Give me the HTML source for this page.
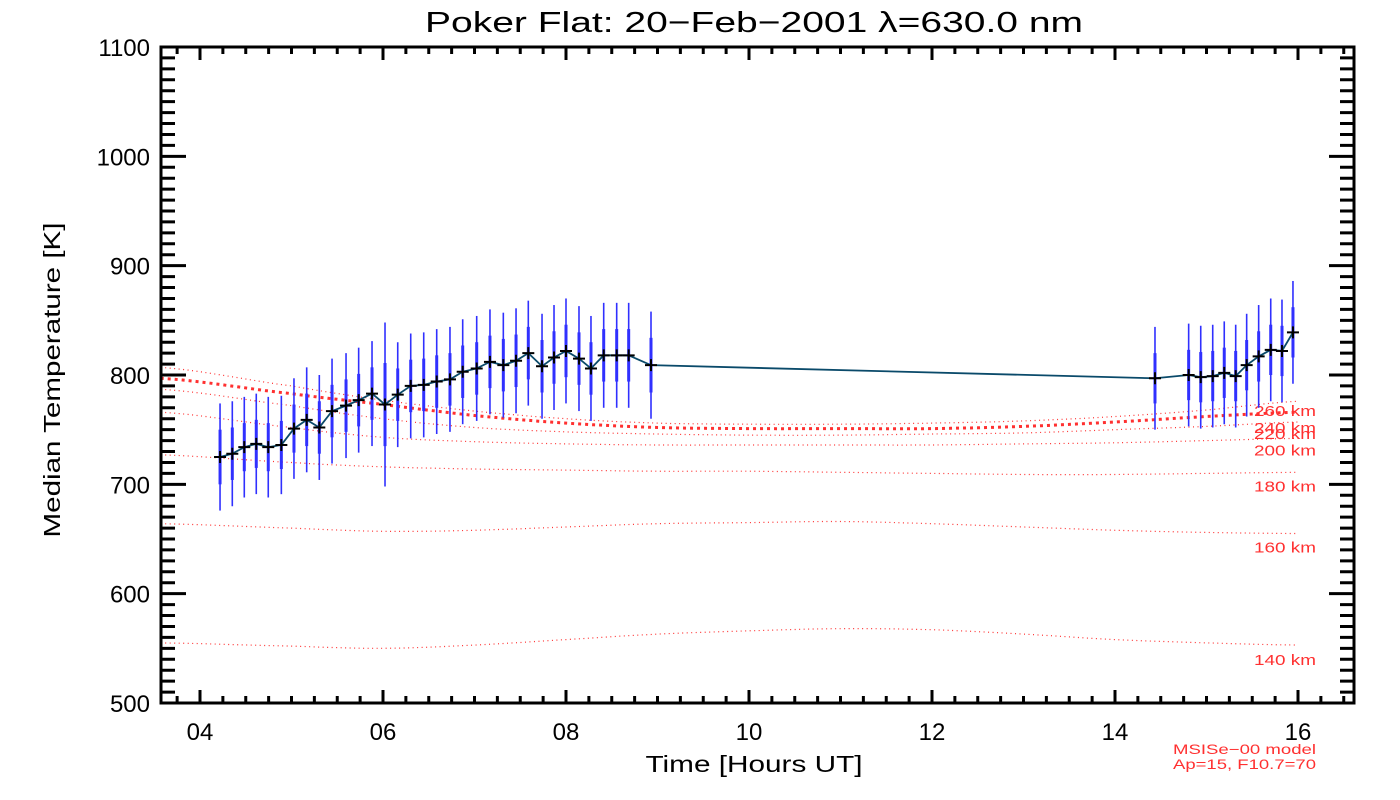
<!DOCTYPE html>
<html><head><meta charset="utf-8"><style>
body{margin:0;background:#fff}
svg{display:block}
text{font-family:"Liberation Sans",sans-serif}
</style></head><body>
<svg id="chart" width="1400" height="800" xmlns="http://www.w3.org/2000/svg">
<rect width="1400" height="800" fill="#fff"/>
<text x="754" y="32" font-size="29" text-anchor="middle" textLength="658" lengthAdjust="spacingAndGlyphs">Poker Flat: 20−Feb−2001 λ=630.0 nm</text>
<text transform="translate(60,380) rotate(-90)" font-size="23" text-anchor="middle" textLength="315" lengthAdjust="spacingAndGlyphs">Median Temperature [K]</text>
<text x="754" y="772" font-size="23" text-anchor="middle" textLength="217" lengthAdjust="spacingAndGlyphs">Time [Hours UT]</text>
<text x="1316" y="754" font-size="14" fill="#ff3030" text-anchor="end" textLength="143" lengthAdjust="spacingAndGlyphs">MSISe−00 model</text>
<text x="1316" y="769" font-size="14" fill="#ff3030" text-anchor="end" textLength="143" lengthAdjust="spacingAndGlyphs">Ap=15, F10.7=70</text>
<g id="model"></g><g id="series"></g><g id="axes"></g>
</svg>
<script>
const times=[4.219,4.353,4.484,4.615,4.746,4.889,5.027,5.166,5.304,5.443,5.596,5.734,5.880,6.022,6.161,6.303,6.445,6.587,6.732,6.871,7.024,7.169,7.315,7.454,7.588,7.738,7.869,8.000,8.142,8.273,8.412,8.554,8.685,8.929,14.437,14.805,14.937,15.068,15.194,15.319,15.439,15.570,15.702,15.825,15.945];
const temps=[725,728,734,737,734,736,751,759,752,767,772,777,783,773,782,790,791,794,796,803,806,812,809,813,820,808,816,822,815,806,818,818,818,809,797,800,798,799,802,799,809,817,823,822,839];
const errOuter=[49,48,46,46,46,45,46,48,48,48,48,48,48,75,48,48,48,48,48,48,48,48,48,48,48,48,48,48,48,48,48,48,48,49,47,47,47,47,47,47,47,47,47,47,47];
const errInner=[25,24,22,22,22,22,22,24,24,24,24,24,24,38,24,24,24,24,24,24,24,24,24,24,24,24,24,24,24,24,24,24,24,25,23,23,23,23,23,23,23,23,23,23,23];
const modelHours=[3.57,5,6,7,8,9,10,11,12,13,14,15,16];
const alt260=[807,790,777,767,760,756,755,755,756,758,762,768,776];
const alt240=[797,783,773,763,756,752,751,751,751,753,757,762,766];
const alt220=[787,772,760,752,748,746,745,745,746,747,750,753,757];
const alt200=[766,752,743,739,737,736,736,736,736,737,738,740,742];
const alt180=[727,720,716,714,713,712,712,711,710,709,709,710,711];
const alt160=[664,660,657,658,661,664,665,666,664,661,658,656,655];
const alt140=[555,552,550,553,558,563,566,568,567,563,558,555,553];
const altNames=["260 km","240 km","220 km","200 km","180 km","160 km","140 km"];
const xTickLabels=["04","06","08","10","12","14","16"];
const yTickLabels=["500","600","700","800","900","1000","1100"];

const NS="http://www.w3.org/2000/svg";
const X0=161,X1=1354,Y0=47,Y1=703;
const xs=h=>200+(h-4)*91.5;
const ys=v=>Y1-(v-500)*(Y1-Y0)/600;
function mk(tag,attrs,parent){const e=document.createElementNS(NS,tag);for(const k in attrs)e.setAttribute(k,attrs[k]);parent.appendChild(e);return e;}

const model=document.getElementById('model');
const alts=[alt260,alt240,alt220,alt200,alt180,alt160,alt140];
const labelOff=[10,16,12,12,14,14,15];
alts.forEach((arr,i)=>{
  const pts=[];
  for(let k=0;k<modelHours.length-1;k++){
    for(let s=0;s<10;s++){const t=s/10;const h=modelHours[k]+(modelHours[k+1]-modelHours[k])*t;
      const a=arr[Math.max(0,k-1)],b=arr[k],c=arr[k+1],d=arr[Math.min(arr.length-1,k+2)];
      const v=0.5*((2*b)+(-a+c)*t+(2*a-5*b+4*c-d)*t*t+(-a+3*b-3*c+d)*t*t*t);
      pts.push(xs(h).toFixed(1)+','+ys(v).toFixed(1));}
  }
  pts.push(xs(modelHours[modelHours.length-1])+','+ys(arr[arr.length-1]));
  const thick=(i===1);
  const pl=mk('polyline',{points:pts.join(' '),fill:'none',stroke:'#ff3030','stroke-width':thick?3:1.2,'stroke-dasharray':thick?'3 4':'1 3.5'},model);
  
  
  const t=mk('text',{x:1316,y:ys(arr[arr.length-1])+labelOff[i]+5,'font-size':15,fill:'#ff3030','text-anchor':'end',textLength:62,lengthAdjust:'spacingAndGlyphs'},model);
  t.textContent=altNames[i];
  
  
});

const series=document.getElementById('series');
times.forEach((h,i)=>{
  const x=xs(h);
  const o=mk('line',{x1:x,x2:x,y1:ys(temps[i]+errOuter[i]),y2:ys(temps[i]-errOuter[i]),stroke:'#3030ff','stroke-width':1.6},series);
  
  
  const n=mk('line',{x1:x,x2:x,y1:ys(temps[i]+errInner[i]),y2:ys(temps[i]-errInner[i]),stroke:'#3030ff','stroke-width':3},series);
  
  
});
const line=mk('polyline',{points:times.map((h,i)=>xs(h)+','+ys(temps[i])).join(' '),fill:'none',stroke:'#0a4a6a','stroke-width':1.8},series);


times.forEach((h,i)=>{
  const x=xs(h),y=ys(temps[i]);
  const p=mk('path',{d:`M${x-6},${y}H${x+6}M${x},${y-6}V${y+6}`,stroke:'#000','stroke-width':2},series);
  
  
});

const axes=document.getElementById('axes');
const frame=mk('rect',{x:X0,y:Y0,width:X1-X0,height:Y1-Y0,fill:'none',stroke:'#000','stroke-width':3},axes);


for(let v=500;v<=1100;v+=10){
  const y=ys(v),L=(v%100===0)?25:14;
  mk('path',{d:`M${X0},${y}H${X0+L}M${X1},${y}H${X1-L}`,stroke:'#000','stroke-width':3},axes);
}
yTickLabels.forEach(s=>{
  const t=mk('text',{x:150,y:ys(+s)+9,'font-size':24,'text-anchor':'end'},axes);
  t.textContent=s;
  
  
});
for(let h=3.75;h<=16.5;h+=0.25){
  const x=xs(h),L=(Math.abs(h%2)<1e-6)?13:7;
  mk('path',{d:`M${x},${Y1}V${Y1-L}M${x},${Y0}V${Y0+L}`,stroke:'#000','stroke-width':3},axes);
}
xTickLabels.forEach(s=>{
  const t=mk('text',{x:xs(+s),y:740,'font-size':24,'text-anchor':'middle'},axes);
  t.textContent=s;
  
  
});
</script>
</body></html>
